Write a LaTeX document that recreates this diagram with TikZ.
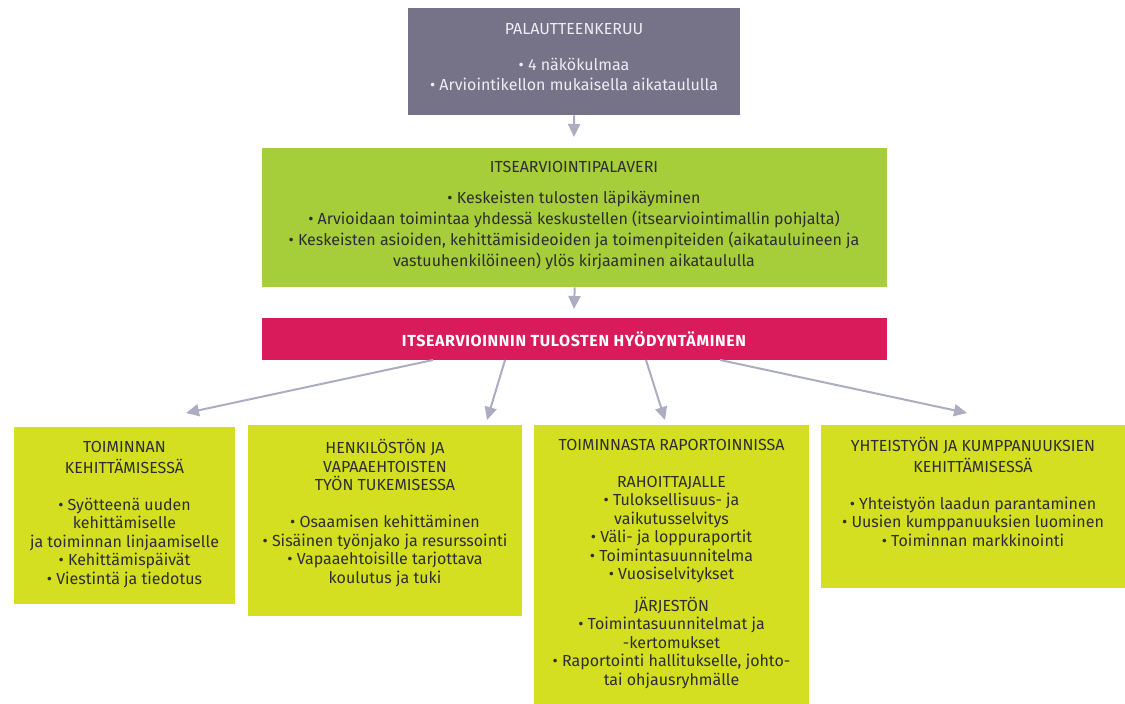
\documentclass[tikz,border=0pt]{standalone}
\usepackage{fontspec}
\setmainfont{Fira Sans}
\usetikzlibrary{arrows.meta}
\definecolor{topc}{HTML}{767389}
\definecolor{greenc}{HTML}{A6CD3A}
\definecolor{pinkc}{HTML}{DA1B5B}
\definecolor{yelc}{HTML}{D5DF21}
\definecolor{arrc}{HTML}{ADADC2}
\definecolor{txtc}{HTML}{2E2E2E}
\definecolor{toptxt}{HTML}{EDEDF2}
\begin{document}
\begin{tikzpicture}[x=1pt,y=-1pt,
  boxshape/.style={fill=#1, draw=none, inner sep=0pt, anchor=north west},
  txt/.style={inner sep=0pt, anchor=north, align=center, text=txtc, font=\fontsize{16}{18.5}\selectfont},
  conn/.style={draw=arrc, line width=2pt, -{Triangle[length=13pt,width=12pt]}}]
\useasboundingbox (0,0) rectangle (1125,704);
% boxes
\node[boxshape=topc, minimum width=332pt, minimum height=107pt] (top) at (408,8) {};
\node[boxshape=greenc, minimum width=625pt, minimum height=139pt] (mid) at (262,148) {};
\node[boxshape=pinkc, minimum width=625pt, minimum height=42pt] (pink) at (262,318) {};
\node[boxshape=yelc, minimum width=221pt, minimum height=177pt] (b1) at (14,427) {};
\node[boxshape=yelc, minimum width=274pt, minimum height=191pt] (b2) at (248,425) {};
\node[boxshape=yelc, minimum width=275pt, minimum height=279pt] (b3) at (534,425) {};
\node[boxshape=yelc, minimum width=304pt, minimum height=163pt] (b4) at (821,425) {};
% texts
\node[txt, text=toptxt, font=\fontsize{16}{20}\selectfont] (topT) at (574,20)
  {\strut PALAUTTEENKERUU\\[16pt]
   • 4 näkökulmaa\\
   • Arviointikellon mukaisella aikataululla};
\node[txt, font=\fontsize{16}{21}\selectfont] (midT) at (574,158)
  {\strut ITSEARVIOINTIPALAVERI\\[10pt]
   • Keskeisten tulosten läpikäyminen\\
   • Arvioidaan toimintaa yhdessä keskustellen (itsearviointimallin pohjalta)\\
   • Keskeisten asioiden, kehittämisideoiden ja toimenpiteiden (aikatauluineen ja\\
   vastuuhenkilöineen) ylös kirjaaminen aikataululla};
\node[txt, text=white, font=\fontsize{16}{18}\bfseries\addfontfeatures{LetterSpace=4}\selectfont, anchor=center] (pinkT) at (574,339)
  {ITSEARVIOINNIN TULOSTEN HYÖDYNTÄMINEN};
\node[txt] (b1T) at (124.5,439)
  {\strut TOIMINNAN\\
   KEHITTÄMISESSÄ\\[18.5pt]
   • Syötteenä uuden\\
   kehittämiselle\\
   ja toiminnan linjaamiselle\\
   • Kehittämispäivät\\
   • Viestintä ja tiedotus};
\node[txt] (b2T) at (385,439)
  {\strut HENKILÖSTÖN JA\\
   VAPAAEHTOISTEN\\
   TYÖN TUKEMISESSA\\[18.5pt]
   • Osaamisen kehittäminen\\
   • Sisäinen työnjako ja resurssointi\\
   • Vapaaehtoisille tarjottava\\
   koulutus ja tuki};
\node[txt] (b3T) at (671.5,437)
  {\strut TOIMINNASTA RAPORTOINNISSA\\[18.5pt]
   RAHOITTAJALLE\\
   • Tuloksellisuus- ja\\
   vaikutusselvitys\\
   • Väli- ja loppuraportit\\
   • Toimintasuunnitelma\\
   • Vuosiselvitykset\\[13pt]
   JÄRJESTÖN\\
   • Toimintasuunnitelmat ja\\
   -kertomukset\\
   • Raportointi hallitukselle, johto-\\
   tai ohjausryhmälle};
\node[txt] (b4T) at (973,437)
  {\strut YHTEISTYÖN JA KUMPPANUUKSIEN\\
   KEHITTÄMISESSÄ\\[18.5pt]
   • Yhteistyön laadun parantaminen\\
   • Uusien kumppanuuksien luominen\\
   • Toiminnan markkinointi};
% connector ends
\coordinate (tA) at (574,137);
\coordinate (mA) at (574,309);
\coordinate (s1) at (433,360);
\coordinate (s2) at (505,360);
\coordinate (s3) at (646,360);
\coordinate (s4) at (720,360);
\coordinate (e1) at (186,413);
\coordinate (e2) at (487,420);
\coordinate (e3) at (665,420);
\coordinate (e4) at (967,413);
\draw[conn] (top.south) -- (tA);
\draw[conn] (mid.south) -- (mA);
\draw[conn] (s1) -- (e1);
\draw[conn] (s2) -- (e2);
\draw[conn] (s3) -- (e3);
\draw[conn] (s4) -- (e4);
\end{tikzpicture}
\end{document}
